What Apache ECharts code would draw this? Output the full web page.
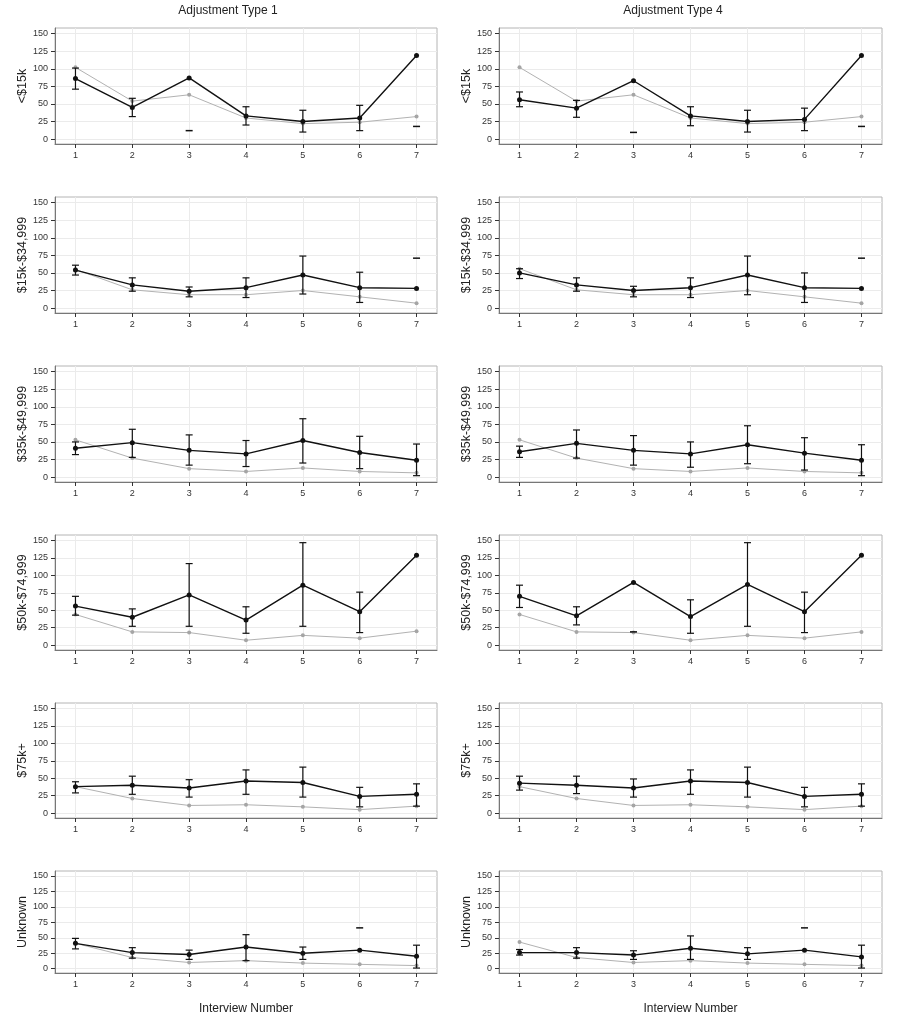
<!DOCTYPE html>
<html><head><meta charset="utf-8">
<script src="https://cdn.jsdelivr.net/npm/echarts@6/dist/echarts.min.js"></script>
<style>html,body{margin:0;padding:0;background:#fff}#c{width:900px;height:1021px}</style>
</head><body><div id="c"></div>
<script>
const interviews = [1, 2, 3, 4, 5, 6, 7];
const adjustmentTypes = ['Adjustment Type 1', 'Adjustment Type 4'];
const incomeGroups = ['<$15k', '$15k-$34,999', '$35k-$49,999', '$50k-$74,999', '$75k+', 'Unknown'];
const yTicks = [0, 25, 50, 75, 100, 125, 150];
const xTitle = 'Interview Number';

// Adjustment Type 1 (rows = income groups, columns = interviews 1..7)
const type1Mean = [
  [86, 45, 87, 33, 25, 30, 119],
  [54, 33, 24, 29, 47, 29, 28],
  [41, 49, 38, 33, 52, 35, 24],
  [56, 40, 72, 36, 86, 48, 129],
  [38, 40, 36, 46, 44, 24, 27],
  [41, 26, 23, 35, 25, 30, 20]
];
const type1Low = [
  [71, 32, null, 20, 10, 12, null],
  [47, 24, 16, 15, 20, 8, null],
  [32, 28, 17, 15, 20, 12, 2],
  [43, 27, 27, 17, 27, 18, null],
  [29, 27, 23, 27, 23, 9, 10],
  [32, 17, 15, 13, 15, null, 1]
];
const type1High = [
  [101, 58, null, 46, 41, 48, null],
  [61, 43, 30, 43, 74, 51, null],
  [50, 68, 60, 52, 83, 58, 47],
  [70, 52, 117, 55, 147, 76, null],
  [45, 53, 48, 62, 66, 37, 42],
  [49, 34, 30, 55, 35, null, 38]
];
const type1Dash = [
  [null, null, 12, null, null, null, 18],
  [null, null, null, null, null, null, 71],
  [null, null, null, null, null, null, null],
  [null, null, null, null, null, null, null],
  [null, null, null, null, null, null, null],
  [null, null, null, null, null, 66, null]
];
const type1Ref = [
  [102, 54, 63, 30, 22, 24, 32],
  [55, 26, 19, 19, 25, 16, 7],
  [53, 27, 12, 8, 13, 8, 6],
  [44, 19, 18, 7, 14, 10, 20],
  [38, 21, 11, 12, 9, 5, 10],
  [41, 18, 10, 13, 9, 7, 5]
];

// Adjustment Type 4
const type4Mean = [
  [56, 44, 83, 33, 25, 28, 119],
  [50, 33, 25, 29, 47, 29, 28],
  [36, 48, 38, 33, 46, 34, 24],
  [70, 42, 90, 41, 87, 48, 129],
  [43, 40, 36, 46, 44, 24, 27],
  [26, 26, 22, 33, 24, 30, 19]
];
const type4Low = [
  [46, 31, null, 19, 10, 12, null],
  [42, 24, 16, 15, 19, 8, null],
  [28, 27, 17, 14, 19, 10, 2],
  [54, 29, null, 17, 27, 18, null],
  [33, 28, 23, 27, 23, 9, 10],
  [22, 17, 15, 15, 15, null, 1]
];
const type4High = [
  [67, 55, null, 46, 41, 44, null],
  [56, 43, 31, 43, 74, 50, null],
  [44, 67, 59, 50, 73, 56, 46],
  [86, 55, null, 65, 147, 76, null],
  [53, 53, 49, 62, 66, 37, 42],
  [31, 34, 29, 53, 34, null, 38]
];
const type4Dash = [
  [null, null, 9.5, null, null, null, 18],
  [null, null, null, null, null, null, 71],
  [null, null, null, null, null, null, null],
  [null, null, 19, null, null, null, null],
  [null, null, null, null, null, null, null],
  [null, null, null, null, null, 66, null]
];
const type4Ref = [
  [102, 54, 63, 30, 22, 24, 32],
  [56, 26, 19, 19, 25, 16, 7],
  [53, 27, 12, 8, 13, 8, 6],
  [44, 19, 18, 7, 14, 10, 19],
  [38, 21, 11, 12, 9, 5, 10],
  [43, 18, 10, 13, 9, 7, 5]
];

const seriesSets = [
  { mean: type1Mean, low: type1Low, high: type1High, dash: type1Dash, ref: type1Ref },
  { mean: type4Mean, low: type4Low, high: type4High, dash: type4Dash, ref: type4Ref }
];

// layout
const FONT = 'Liberation Sans, Arial, Helvetica, sans-serif';
const colLeft = [55, 499];
const colWidth = [382, 383];
const rowTop = [28, 197, 366, 535, 703, 871];
const rowHeight = [116, 116, 116, 115, 115, 102];
const titleX = [228, 673];

function errRender(params, api) {
  const x = api.value(0), lo = api.value(1), hi = api.value(2);
  const a = api.coord([x, lo]), b = api.coord([x, hi]);
  const w = 3.5;
  const st = { stroke: '#111', lineWidth: 1.2 };
  return { type: 'group', children: [
    { type: 'line', shape: { x1: a[0], y1: a[1], x2: b[0], y2: b[1] }, style: st },
    { type: 'line', shape: { x1: a[0] - w, y1: a[1], x2: a[0] + w, y2: a[1] }, style: st },
    { type: 'line', shape: { x1: b[0] - w, y1: b[1], x2: b[0] + w, y2: b[1] }, style: st }
  ]};
}
function dashRender(params, api) {
  const p = api.coord([api.value(0), api.value(1)]);
  const w = 3.5;
  return { type: 'line', shape: { x1: p[0] - w, y1: p[1], x2: p[0] + w, y2: p[1] }, style: { stroke: '#111', lineWidth: 1.5 } };
}

const grids = [], xAxes = [], yAxes = [], series = [];
for (let c = 0; c < 2; c++) {
  const s = seriesSets[c];
  for (let r = 0; r < 6; r++) {
    const g = grids.length;
    grids.push({ left: colLeft[c], top: rowTop[r], width: colWidth[c], height: rowHeight[r],
      show: true, borderColor: '#b4b4b4', borderWidth: 1, backgroundColor: '#fff', containLabel: false });
    xAxes.push({ gridIndex: g, type: 'value', min: 0.64, max: 7.36, position: 'bottom',
      name: r === 5 ? xTitle : '', nameLocation: 'middle', nameGap: 30,
      nameTextStyle: { fontSize: 12, color: '#222', fontFamily: FONT },
      axisLine: { show: true, onZero: false, lineStyle: { color: '#777', width: 1 } },
      axisTick: { show: true, customValues: interviews, length: 4, lineStyle: { color: '#333' } },
      axisLabel: { customValues: interviews, fontSize: 9, color: '#333', margin: 7, fontFamily: FONT },
      splitLine: { show: true, lineStyle: { color: '#ebebeb', width: 1 } }
    });
    yAxes.push({ gridIndex: g, type: 'value', min: -7, max: 158, position: 'left',
      name: incomeGroups[r], nameLocation: 'middle', nameGap: 24, nameRotate: 90,
      nameTextStyle: { fontSize: 12.5, color: '#222', fontFamily: FONT },
      axisLine: { show: true, onZero: false, lineStyle: { color: '#777', width: 1 } },
      axisTick: { show: true, customValues: yTicks, length: 4, lineStyle: { color: '#333' } },
      axisLabel: { customValues: yTicks, fontSize: 9, color: '#333', margin: 7, fontFamily: FONT },
      splitLine: { show: true, lineStyle: { color: '#ebebeb', width: 1 } }
    });
    series.push({ type: 'line', xAxisIndex: g, yAxisIndex: g, z: 2,
      data: interviews.map((x, i) => [x, s.ref[r][i]]),
      symbol: 'circle', symbolSize: 4, lineStyle: { color: '#b2b2b2', width: 1 },
      itemStyle: { color: '#a5a5a5' }, silent: true });
    const err = [];
    interviews.forEach((x, i) => { if (s.low[r][i] != null && s.high[r][i] != null) err.push([x, s.low[r][i], s.high[r][i]]); });
    series.push({ type: 'custom', xAxisIndex: g, yAxisIndex: g, z: 3, renderItem: errRender,
      data: err, encode: { x: 0, y: [1, 2] }, silent: true });
    series.push({ type: 'line', xAxisIndex: g, yAxisIndex: g, z: 4,
      data: interviews.map((x, i) => [x, s.mean[r][i]]),
      symbol: 'circle', symbolSize: 5, lineStyle: { color: '#111', width: 1.4 },
      itemStyle: { color: '#111' }, silent: true });
    const dash = [];
    interviews.forEach((x, i) => { if (s.dash[r][i] != null) dash.push([x, s.dash[r][i]]); });
    series.push({ type: 'custom', xAxisIndex: g, yAxisIndex: g, z: 4, renderItem: dashRender,
      data: dash, encode: { x: 0, y: 1 }, silent: true });
  }
}

const chart = echarts.init(document.getElementById('c'), null, { renderer: 'canvas' });
chart.setOption({
  animation: false,
  backgroundColor: '#fff',
  textStyle: { fontFamily: FONT },
  graphic: adjustmentTypes.map((t, c) => ({
    type: 'text', x: titleX[c], y: 11,
    style: { text: t, fill: '#222', font: '12px ' + FONT, align: 'center', verticalAlign: 'middle', textAlign: 'center', textVerticalAlign: 'middle' }
  })),
  grid: grids, xAxis: xAxes, yAxis: yAxes, series: series
});
</script></body></html>
